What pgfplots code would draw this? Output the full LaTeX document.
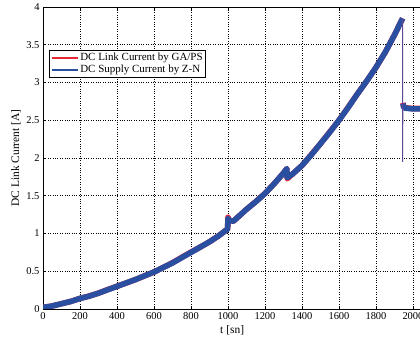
\documentclass[border=0pt]{standalone}
\usepackage{fontspec}
\setmainfont{Liberation Serif}
\usepackage{pgfplots}
\pgfplotsset{compat=1.18}
\definecolor{cred}{RGB}{230,40,55}
\definecolor{cblue}{RGB}{42,78,160}
\definecolor{cpurp}{RGB}{95,70,150}
\begin{document}
\begin{tikzpicture}
\useasboundingbox (-43bp,-31bp) rectangle (377bp,309bp);
\clip (-43bp,-31bp) rectangle (377bp,309bp);
\begin{axis}[
  at={(0,0)}, anchor=south west,
  scale only axis, width=378.3bp, height=302bp,
  xmin=0, xmax=2045, ymin=0, ymax=4,
  xtick={0,200,...,2000}, ytick={0,0.5,1,1.5,2,2.5,3,3.5,4},
  grid=major, major grid style={dotted, black, line width=0.8bp},
  axis line style={line width=0.9bp},
  tick style={black, line width=0.6bp}, major tick length=3bp,
  tick label style={font=\fontsize{10.5}{12}\selectfont},
  /pgf/number format/assume math mode=true,
  /pgf/number format/1000 sep={},
  xlabel={t [sn]}, ylabel={DC Link Current [A]},
  label style={font=\fontsize{11.5}{13}\selectfont},
  xlabel style={at={(axis description cs:0.5,-0.07)}, anchor=center},
  ylabel style={at={(axis description cs:-0.0714,0.5)}, anchor=center},
  legend style={at={(rel axis cs:0.0167,0.858)}, anchor=north west, line width=0.8bp,
    font=\fontsize{11}{13}\selectfont, inner sep=1bp, row sep=-1bp, cells={anchor=west}},
]
\addlegendimage{legend image code/.code={\draw[draw=cred, line width=1.6bp] (0bp,0bp) -- (26bp,0bp);}}
\addlegendentry{DC Link Current by GA/PS}
\addlegendimage{legend image code/.code={\draw[draw=cblue, line width=1.6bp] (0bp,0bp) -- (26bp,0bp);}}
\addlegendentry{DC Supply Current by Z-N}
% red series (GA/PS)
\addplot[cred, line width=5.6bp, line join=round, forget plot] coordinates {
(0,0.02)(50,0.04)(100,0.07)(150,0.10)(200,0.14)(250,0.172)(300,0.21)(350,0.258)(400,0.30)(450,0.345)(500,0.39)(550,0.44)(600,0.49)(650,0.55)(700,0.613)(750,0.684)(800,0.753)(850,0.82)(900,0.89)(950,0.97)(998,1.06)(1000,1.215)(1008,1.17)(1030,1.165)(1100,1.32)(1150,1.422)(1200,1.53)(1250,1.66)(1300,1.80)(1318,1.86)(1320,1.725)(1350,1.79)(1400,1.90)(1450,2.045)(1500,2.19)(1550,2.345)(1600,2.50)(1650,2.673)(1700,2.85)(1750,3.02)(1800,3.20)(1850,3.40)(1900,3.63)(1944,3.85)
};
\addplot[cred, line width=5.6bp, line join=round, forget plot] coordinates {
(1946,2.73)(1950,2.675)(1960,2.665)(2000,2.655)(2045,2.655)
};
% blue series (Z-N)
\addplot[cblue, line width=5.6bp, line join=round, forget plot] coordinates {
(0,0.02)(50,0.04)(100,0.07)(150,0.10)(200,0.14)(250,0.17)(300,0.21)(350,0.255)(400,0.30)(450,0.345)(500,0.39)(550,0.44)(600,0.49)(650,0.55)(700,0.61)(750,0.68)(800,0.75)(850,0.82)(900,0.89)(950,0.97)(998,1.06)(1000,1.20)(1008,1.17)(1030,1.165)(1100,1.32)(1150,1.42)(1200,1.53)(1250,1.66)(1300,1.80)(1318,1.86)(1320,1.74)(1350,1.79)(1400,1.90)(1450,2.04)(1500,2.19)(1550,2.34)(1600,2.50)(1650,2.67)(1700,2.85)(1750,3.02)(1800,3.20)(1850,3.40)(1900,3.63)(1944,3.85)
};
\addplot[cblue, line width=5.6bp, line join=round, forget plot] coordinates {
(1946,2.72)(1950,2.67)(1960,2.66)(2000,2.65)(2045,2.65)
};
\addplot[cpurp, line width=1bp, forget plot] coordinates {
(1944,3.85)(1944,1.95)(1945,2.66)
};
\end{axis}
\end{tikzpicture}
\end{document}
